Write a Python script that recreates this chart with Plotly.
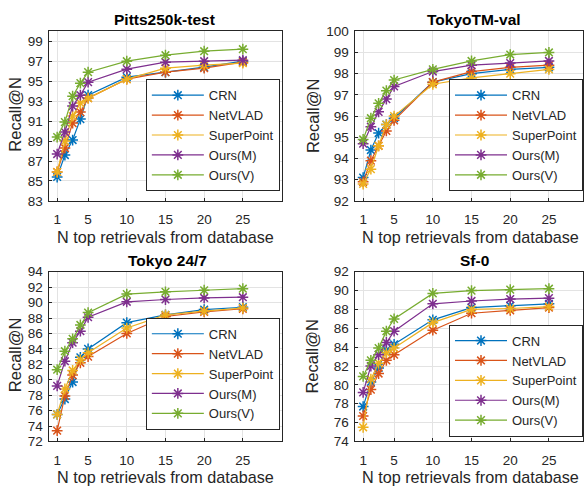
import plotly.graph_objects as go

N = [1, 2, 3, 4, 5, 10, 15, 20, 25]
methods = ["CRN", "NetVLAD", "SuperPoint", "Ours(M)", "Ours(V)"]
colors = ["#0072BD", "#D95319", "#EDB120", "#7E2F8E", "#77AC30"]

titles = ["Pitts250k-test", "TokyoTM-val", "Tokyo 24/7", "Sf-0"]

pitts_crn = [85.4, 87.6, 89.1, 91.2, 93.6, 95.4, 95.9, 96.4, 97.0]
pitts_netvlad = [85.9, 88.3, 90.8, 91.9, 93.3, 95.2, 95.9, 96.3, 96.9]
pitts_superpoint = [85.9, 89.0, 91.5, 92.8, 93.3, 95.2, 96.3, 96.6, 96.8]
pitts_ours_m = [87.7, 89.9, 92.5, 93.6, 94.9, 96.2, 96.9, 97.0, 97.1]
pitts_ours_v = [89.4, 90.9, 93.5, 94.8, 95.9, 97.0, 97.6, 98.0, 98.2]

tm_crn = [93.1, 94.4, 95.2, 95.6, 95.9, 97.6, 98.0, 98.2, 98.3]
tm_netvlad = [92.9, 93.9, 94.6, 95.3, 95.8, 97.6, 98.1, 98.3, 98.4]
tm_superpoint = [92.8, 93.5, 94.6, 95.6, 96.0, 97.5, 97.8, 98.0, 98.2]
tm_ours_m = [94.7, 95.5, 96.2, 96.8, 97.4, 98.1, 98.4, 98.5, 98.6]
tm_ours_v = [94.9, 95.9, 96.6, 97.2, 97.7, 98.2, 98.6, 98.9, 99.0]

t247_crn = [75.5, 77.5, 79.7, 82.9, 84.0, 87.4, 88.4, 89.1, 89.4]
t247_netvlad = [73.4, 77.9, 80.6, 82.2, 83.0, 86.0, 88.2, 88.8, 89.2]
t247_superpoint = [75.5, 78.8, 81.2, 82.6, 83.5, 86.7, 88.4, 88.9, 89.3]
t247_ours_m = [79.2, 82.4, 84.8, 86.3, 88.1, 90.1, 90.4, 90.6, 90.7]
t247_ours_v = [81.3, 83.7, 85.3, 87.1, 88.7, 91.1, 91.4, 91.6, 91.8]

sf0_crn = [77.7, 80.3, 81.8, 83.7, 84.3, 86.9, 88.2, 88.4, 88.6]
sf0_netvlad = [76.7, 79.5, 81.2, 82.6, 83.2, 85.8, 87.6, 87.9, 88.2]
sf0_superpoint = [75.5, 80.6, 82.3, 83.4, 83.9, 86.6, 88.0, 88.1, 88.3]
sf0_ours_m = [79.2, 82.0, 83.2, 84.5, 85.7, 88.6, 88.9, 89.1, 89.2]
sf0_ours_v = [80.9, 82.6, 83.9, 85.7, 87.0, 89.7, 90.0, 90.1, 90.2]

panels = [
    [pitts_crn, pitts_netvlad, pitts_superpoint, pitts_ours_m, pitts_ours_v],
    [tm_crn, tm_netvlad, tm_superpoint, tm_ours_m, tm_ours_v],
    [t247_crn, t247_netvlad, t247_superpoint, t247_ours_m, t247_ours_v],
    [sf0_crn, sf0_netvlad, sf0_superpoint, sf0_ours_m, sf0_ours_v],
]

x_ticks = [1, 5, 10, 15, 20, 25]
y_ranges = [[83, 100], [92, 100], [72, 94], [74, 92]]
y_ticks = [list(range(83, 100, 2)), list(range(92, 101, 1)),
           list(range(72, 95, 2)), list(range(74, 93, 2))]

W, H = 584, 496
FONT = "Liberation Sans, Arial, sans-serif"
TXT = "#262626"

# pixel geometry of each axes box (left, right, top, bottom)
boxes = [(49.5, 282, 25, 200), (356, 584, 25, 200),
         (49.5, 282, 273, 448), (356, 584, 273, 448)]
x_ranges = [[0, 30], [0, 29.4], [0, 30], [0, 29.4]]

fig = go.Figure()
layout = dict(width=W, height=H, margin=dict(l=0, r=0, t=0, b=0),
              paper_bgcolor="white", plot_bgcolor="white",
              font=dict(family=FONT, color=TXT, size=13), annotations=[])

legend_pos = [(0.480, 1 - 190 / H), (1.0, 1 - 190 / H),
              (0.480, 1 - 436 / H), (1.0, 1 - 443 / H)]

for p in range(4):
    sfx = "" if p == 0 else str(p + 1)
    l, r, t, b = boxes[p]
    axstyle = dict(showline=True, linecolor=TXT, linewidth=1, mirror=True,
                   showgrid=True, gridcolor="#e3e3e3", gridwidth=1,
                   zeroline=False, ticks="inside", ticklen=3, tickcolor=TXT,
                   tickfont=dict(family=FONT, size=13.5, color=TXT))
    layout["xaxis" + sfx] = dict(axstyle, domain=[l / W, r / W],
                                 range=x_ranges[p], tickvals=x_ticks,
                                 anchor="y" + sfx, ticklabelstandoff=6)
    layout["yaxis" + sfx] = dict(axstyle, domain=[1 - b / H, 1 - t / H],
                                 range=y_ranges[p], tickvals=y_ticks[p],
                                 anchor="x" + sfx, ticklabelstandoff=3)
    lg = "legend" if p == 0 else "legend" + str(p + 1)
    lx, ly = legend_pos[p]
    layout[lg] = dict(x=lx, y=ly, xanchor="right", yanchor="bottom",
                      xref="paper", yref="paper",
                      bgcolor="white", bordercolor=TXT, borderwidth=1,
                      font=dict(family=FONT, size=13, color=TXT),
                      tracegroupgap=0, itemwidth=52)
    for i, m in enumerate(methods):
        fig.add_trace(go.Scatter(
            x=N, y=panels[p][i], name=m, mode="lines+markers",
            line=dict(color=colors[i], width=1.2),
            marker=dict(symbol="asterisk-open", size=9,
                        line=dict(color=colors[i], width=1.5)),
            xaxis="x" + sfx, yaxis="y" + sfx, legend=lg, showlegend=True))

title_pos = [(165, 13), (475, 13), (168, 261), (475, 261)]
xlab_pos = [(166, 237), (471, 237), (166, 485), (471, 485)]
ylab_pos = [(15, 110), (313, 112), (15, 358), (313, 360)]
for p in range(4):
    tx, ty = title_pos[p]
    layout["annotations"].append(dict(
        text="<b>" + titles[p] + "</b>", x=tx / W, y=1 - ty / H,
        xref="paper", yref="paper", showarrow=False,
        xanchor="center", yanchor="middle",
        font=dict(family=FONT, size=15.5, color="black")))
    xx, xy = xlab_pos[p]
    layout["annotations"].append(dict(
        text="N top retrievals from database", x=xx / W, y=1 - xy / H,
        xref="paper", yref="paper", showarrow=False,
        xanchor="center", yanchor="middle",
        font=dict(family=FONT, size=16.2, color=TXT)))
    yx, yy = ylab_pos[p]
    layout["annotations"].append(dict(
        text="Recall@N", x=yx / W, y=1 - yy / H, textangle=-90,
        xref="paper", yref="paper", showarrow=False,
        xanchor="center", yanchor="middle",
        font=dict(family=FONT, size=16.5, color=TXT)))

fig.update_layout(**layout)
fig.write_html("out.html")
